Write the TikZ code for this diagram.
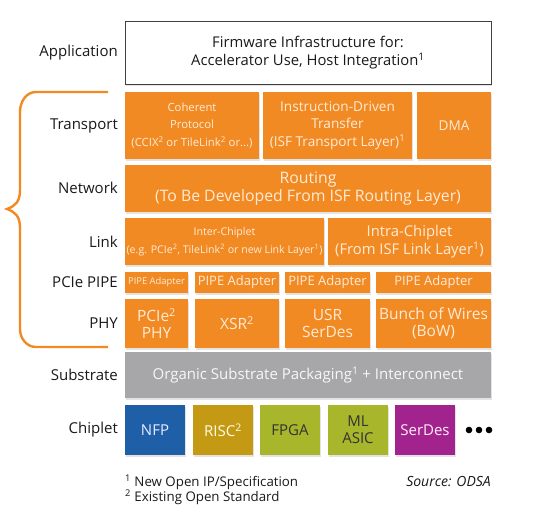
\documentclass[tikz,border=0pt]{standalone}
\usepackage{fontspec}
\setmainfont{Open Sans}
\usetikzlibrary{shadows}
\definecolor{org}{HTML}{F28A24}
\definecolor{orgtxt}{HTML}{FFEBD6}
\definecolor{subgray}{HTML}{A7A7A9}
\definecolor{nfpblue}{HTML}{1F5FA8}
\definecolor{riscgold}{HTML}{C49A14}
\definecolor{fpgagreen}{HTML}{A8B62C}
\definecolor{serdesmag}{HTML}{A3238E}
\definecolor{labtxt}{HTML}{1A1A1A}
\begin{document}
\begin{tikzpicture}[x=1pt,y=-1pt,
  lbl/.style={anchor=east, text=labtxt, font=\fontsize{15}{17}\selectfont, inner sep=0},
  cell/.style={rectangle, inner sep=0pt, align=center,
    drop shadow={opacity=0.22, shadow xshift=1pt, shadow yshift=-2pt}},
  obox/.style={cell, fill=org, text=orgtxt},
  chip/.style={cell, minimum width=60pt, minimum height=50pt, font=\fontsize{15}{17}\selectfont}
]
\useasboundingbox (0,0) rectangle (540,520);
\fill[white] (0,0) rectangle (540,520);

% labels
\node[lbl] (lapp) at (118,53) {Application};
\node[lbl] (ltra) at (118,126) {Transport};
\node[lbl] (lnet) at (118,188) {Network};
\node[lbl] (llnk) at (118,242) {Link};
\node[lbl] (lpip) at (118,282.5) {PCIe PIPE};
\node[lbl] (lphy) at (118,323.5) {PHY};
\node[lbl] (lsub) at (118,375) {Substrate};
\node[lbl] (lchp) at (118,430) {Chiplet};

% application
\node[cell, fill=white, draw=black!75, line width=0.8pt, minimum width=366pt, minimum height=63pt,
  text=labtxt, font=\fontsize{14.8}{18}\selectfont] (app) at (308,52.5)
  {Firmware Infrastructure for:\\Accelerator Use, Host Integration\textsuperscript{1}};

% transport
\node[obox, minimum width=134pt, minimum height=67pt, font=\fontsize{11.3}{17.5}\selectfont] (coh) at (192,125.5)
  {Coherent\\Protocol\\(CCIX\textsuperscript{2} or TileLink\textsuperscript{2} or...)};
\node[obox, minimum width=149pt, minimum height=67pt, font=\fontsize{13.6}{17.5}\selectfont] (idt) at (337.5,125.5)
  {Instruction-Driven\\Transfer\\(ISF Transport Layer)\textsuperscript{1}};
\node[obox, minimum width=74pt, minimum height=67pt, font=\fontsize{13.6}{17}\selectfont] (dma) at (454,125.5) {DMA};

% network
\node[obox, minimum width=366pt, minimum height=47pt, font=\fontsize{15.8}{18}\selectfont] (rout) at (308,188.5)
  {Routing\\(To Be Developed From ISF Routing Layer)};

% link
\node[obox, minimum width=199pt, minimum height=47pt, font=\fontsize{10.6}{18}\selectfont] (inter) at (224.5,241.5)
  {Inter-Chiplet\\(e.g. PCIe\textsuperscript{2}, TileLink\textsuperscript{2} or new Link Layer\textsuperscript{1})};
\node[obox, minimum width=163pt, minimum height=47pt, font=\fontsize{14.8}{18.5}\selectfont] (intra) at (409.5,241.5)
  {Intra-Chiplet\\(From ISF Link Layer\textsuperscript{1})};

% PIPE
\node[obox, minimum width=63pt, minimum height=21pt, font=\fontsize{9.4}{10}\selectfont] (p1) at (156.5,282.5) {PIPE Adapter};
\node[obox, minimum width=84pt, minimum height=21pt, font=\fontsize{13}{14}\selectfont] (p2) at (237,282.5) {PIPE Adapter};
\node[obox, minimum width=85pt, minimum height=21pt, font=\fontsize{13}{14}\selectfont] (p3) at (327.5,282.5) {PIPE Adapter};
\node[obox, minimum width=115pt, minimum height=21pt, font=\fontsize{13}{14}\selectfont] (p4) at (433.5,282.5) {PIPE Adapter};

% PHY
\node[obox, minimum width=63pt, minimum height=49pt, font=\fontsize{15.5}{17}\selectfont] (h1) at (156.5,323.5) {PCIe\textsuperscript{2}\\PHY};
\node[obox, minimum width=84pt, minimum height=49pt, font=\fontsize{15.5}{17}\selectfont] (h2) at (237,323.5) {XSR\textsuperscript{2}};
\node[obox, minimum width=85pt, minimum height=49pt, font=\fontsize{15.5}{17}\selectfont] (h3) at (327.5,323.5) {USR\\SerDes};
\node[obox, minimum width=115pt, minimum height=49pt, font=\fontsize{15.5}{17}\selectfont] (h4) at (433.5,323.5) {Bunch of Wires\\(BoW)};

% substrate
\node[cell, fill=subgray, text=white!94!gray, minimum width=366pt, minimum height=46pt,
  font=\fontsize{15}{17}\selectfont] (sub) at (308,375)
  {Organic Substrate Packaging\textsuperscript{1} + Interconnect};

% chiplets
\node[chip, fill=nfpblue, text=white!92!blue] (nfp) at (155,430) {NFP};
\node[chip, fill=riscgold, text=white!90!yellow] (risc) at (223,430) {RISC\textsuperscript{2}};
\node[chip, fill=fpgagreen, text=black!80] (fpga) at (290,430) {FPGA};
\node[chip, fill=fpgagreen, text=black!80] (ml) at (358,430) {ML\\ASIC};
\node[chip, fill=serdesmag, text=white!94!magenta] (serd) at (425,430) {SerDes};
\node[inner sep=0] (dots) at (479,430) {};
\foreach \dx in {-10,0,10} \fill[black] ([xshift=\dx pt]dots) circle (3.3pt);

% brace
\draw[org, line width=2.4pt]
  (108,92) -- (36,92) to[out=180,in=90] (20,112) -- (20,190)
  .. controls (20,202) and (15,206) .. (7,209)
  .. controls (15,212) and (20,216) .. (20,228)
  -- (20,329) to[out=-90,in=180] (36,347) -- (108,347);

% footnotes
\node[anchor=west, inner sep=0, text=labtxt, font=\fontsize{13.3}{15}\selectfont] (fn1) at (125,482)
  {\textsuperscript{1} New Open IP/Specification};
\node[anchor=west, inner sep=0, text=labtxt, font=\fontsize{13.3}{15}\selectfont] (fn2) at (125,497)
  {\textsuperscript{2} Existing Open Standard};
\node[anchor=east, inner sep=0, text=labtxt, font=\fontsize{14}{15}\selectfont\itshape] (src) at (491,482)
  {Source: ODSA};
\end{tikzpicture}
\end{document}
